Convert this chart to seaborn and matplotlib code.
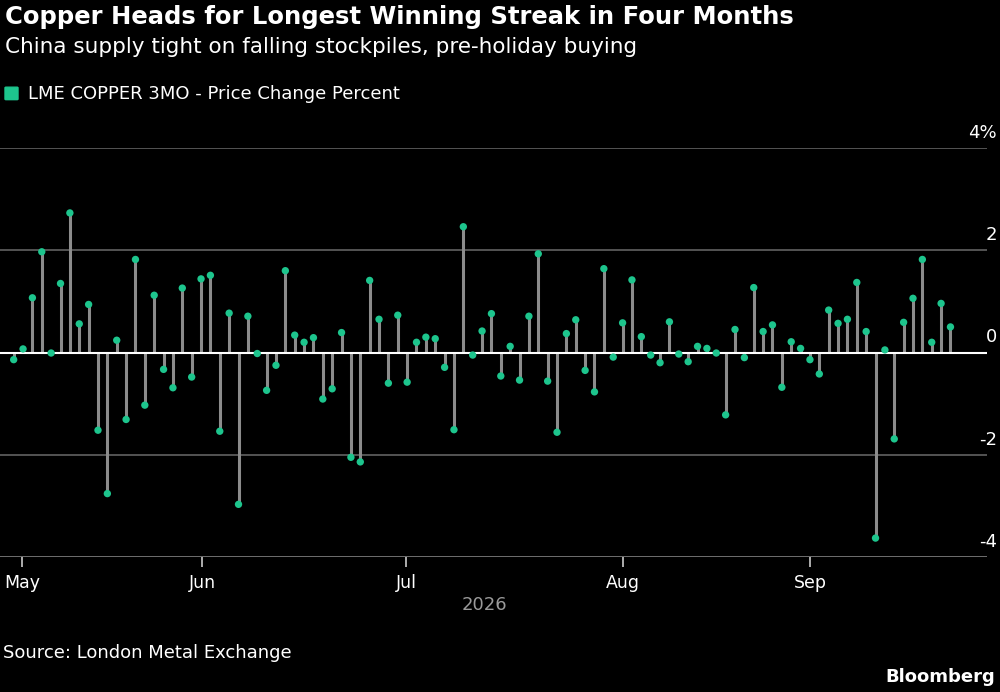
import matplotlib
matplotlib.use("Agg")
import matplotlib.pyplot as plt
import seaborn as sns
import numpy as np
import pandas as pd
from matplotlib.transforms import blended_transform_factory

values = [-0.14, 0.07, 1.07, 1.97, -0.01, 1.35, 2.73, 0.56, 0.94, -1.52,
          -2.76, 0.24, -1.31, 1.82, -1.03, 1.12, -0.33, -0.69, 1.26, -0.48,
          1.44, 1.51, -1.54, 0.77, -2.97, 0.71, -0.02, -0.74, -0.25, 1.60,
          0.34, 0.20, 0.29, -0.91, -0.71, 0.39, -2.05, -2.14, 1.41, 0.65,
          -0.60, 0.73, -0.58, 0.20, 0.30, 0.27, -0.29, -1.51, 2.46, -0.05,
          0.42, 0.76, -0.46, 0.12, -0.54, 0.71, 1.93, -0.56, -1.56, 0.37,
          0.64, -0.35, -0.77, 1.64, -0.09, 0.58, 1.42, 0.31, -0.05, -0.20,
          0.60, -0.03, -0.18, 0.12, 0.08, -0.01, -1.22, 0.45, -0.10, 1.27,
          0.41, 0.54, -0.68, 0.21, 0.08, -0.14, -0.42, 0.83, 0.57, 0.65,
          1.37, 0.41, -3.63, 0.05, -1.69, 0.59, 1.06, 1.82, 0.20, 0.96, 0.50]
month_pos = [0.9, 20.1, 41.9, 65.0, 85.0]
month_labels = ["May", "Jun", "Jul", "Aug", "Sep"]
y_ticks = [4, 2, 0, -2, -4]
y_labels = ["4%", "2", "0", "-2", "-4"]

df = pd.DataFrame({"day": np.arange(len(values)), "pct": values})

sns.set_theme(style="dark")
plt.rcParams['font.family'] = ['DejaVu Sans']
BG = "black"
GREEN = "#1dc58d"

fig = plt.figure(figsize=(10, 6.92), dpi=100, facecolor=BG)
ax = fig.add_axes([0.0, 1 - 557 / 692, 0.987, (557 - 148) / 692])
ax.set_facecolor(BG)
for s in ax.spines.values():
    s.set_visible(False)

ax.set_xlim(-1.46, 103.9)
ax.set_ylim(-4, 4)
for yv in y_ticks:
    ax.axhline(yv, color="#5a5a5a" if yv != -4 else "#777777", lw=1.3, zorder=1)
ax.vlines(df["day"], 0, df["pct"], color="#8c8c8c", lw=2.2, zorder=2)
ax.axhline(0, color="white", lw=1.5, zorder=3)
sns.scatterplot(data=df, x="day", y="pct", ax=ax, color=GREEN, s=28,
                edgecolor="none", zorder=4, legend=False)

ax.set_yticks([])
ax.set_xticks(month_pos)
ax.set_xticklabels(month_labels, color="white", fontsize=12.5)
ax.tick_params(axis="x", bottom=True, length=7, width=1.2, color="#cccccc",
               direction="out", pad=5)
ax.set_xlabel("")
ax.set_ylabel("")
ax.grid(False)

tr = blended_transform_factory(fig.transFigure, ax.transData)
for yv, lab in zip(y_ticks, y_labels):
    ax.text(0.997, yv + 0.12, lab, transform=tr, ha="right",
            va="bottom", color="white", fontsize=13)

fig.text(0.005, 0.975, "Copper Heads for Longest Winning Streak in Four Months",
         color="white", fontsize=17.5, fontweight="bold", va="center", ha="left")
fig.text(0.005, 0.932, "China supply tight on falling stockpiles, pre-holiday buying",
         color="white", fontsize=15.5, va="center", ha="left")
fig.patches.append(matplotlib.patches.FancyBboxPatch((0.006, 0.857), 0.011, 0.016,
                   boxstyle="round,pad=0.001", color=GREEN, transform=fig.transFigure))
fig.text(0.028, 0.864, "LME COPPER 3MO - Price Change Percent", color="white",
         fontsize=13, va="center", ha="left")
fig.text(0.484, 0.125, "2026", color="#9a9a9a", fontsize=13, va="center", ha="center")
fig.text(0.003, 0.056, "Source: London Metal Exchange", color="white",
         fontsize=13, va="center", ha="left")
fig.text(0.995, 0.021, "Bloomberg", color="white", fontsize=13,
         fontweight="bold", va="center", ha="right")

fig.savefig("out.png", dpi=100, facecolor=BG)
